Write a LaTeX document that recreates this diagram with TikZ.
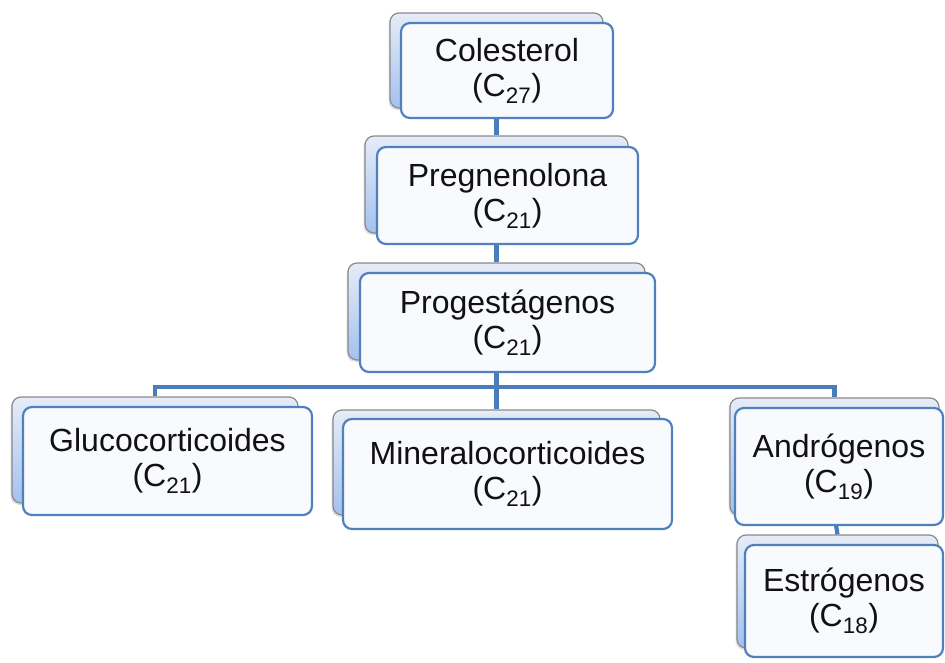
\documentclass[tikz,border=0pt]{standalone}
\usepackage{fontspec}
\setmainfont{Liberation Sans}
\usetikzlibrary{shadows}
\definecolor{linkblue}{HTML}{4A7DBB}
\definecolor{frontedge}{HTML}{4F81BD}
\definecolor{frontfill}{HTML}{F8FAFE}
\definecolor{backtop}{HTML}{E6ECF7}
\definecolor{backbot}{HTML}{A3C1EF}
\definecolor{backedge}{HTML}{8A8A8A}
\definecolor{txt}{HTML}{111111}
\tikzset{
  backbox/.style={draw=backedge, line width=1.2pt, rounded corners=9pt,
    top color=backtop, bottom color=backbot, inner sep=0pt,
    drop shadow={shadow xshift=-1.5pt, shadow yshift=-2pt, opacity=.25}},
  frontbox/.style={draw=frontedge, line width=2.2pt, rounded corners=9pt,
    fill=frontfill, inner sep=0pt, align=center, text=txt,
    font=\fontsize{32}{35}\selectfont},
  link/.style={draw=linkblue, line width=4.2pt}
}
\newcommand\sub[1]{\textsubscript{#1}}
\begin{document}
\begin{tikzpicture}[x=1pt,y=-1pt]
\useasboundingbox (0,0) rectangle (945,662);
% back boxes
\node[backbox, minimum width=213pt, minimum height=95pt] (colB) at (496.5,60.5) {};
\node[backbox, minimum width=263pt, minimum height=97pt] (pregB) at (496.5,184.5) {};
\node[backbox, minimum width=297pt, minimum height=97pt] (progB) at (496.5,311.5) {};
\node[backbox, minimum width=286pt, minimum height=106pt] (glucB) at (155,450) {};
\node[backbox, minimum width=327pt, minimum height=105pt] (minB) at (496.5,462.5) {};
\node[backbox, minimum width=209pt, minimum height=117pt] (andB) at (834.5,456.5) {};
\node[backbox, minimum width=201pt, minimum height=113pt] (estB) at (837.5,591.5) {};
% connectors
\coordinate (bus) at (496.5,387);
\draw[link] (colB.south) -- (pregB.north);
\draw[link] (pregB.south) -- (progB.north);
\draw[link] (progB.south) -- (bus);
\draw[link] (glucB.north) |- (bus) -| (andB.north);
\draw[link] (bus) -- (minB.north);
\draw[link] (andB.south) -- (estB.north);
% front boxes
\node[frontbox, minimum width=212pt, minimum height=95pt] (col) at (507,70.5) {Colesterol\\(C\sub{27})};
\node[frontbox, minimum width=261pt, minimum height=97pt] (preg) at (507.5,195.5) {Pregnenolona\\(C\sub{21})};
\node[frontbox, minimum width=295pt, minimum height=99pt] (prog) at (507.5,322.5) {Progestágenos\\(C\sub{21})};
\node[frontbox, minimum width=289pt, minimum height=108pt] (gluc) at (167.5,461) {Glucocorticoides\\(C\sub{21})};
\node[frontbox, minimum width=329pt, minimum height=110pt] (min) at (507.5,474) {Mineralocorticoides\\(C\sub{21})};
\node[frontbox, minimum width=208pt, minimum height=117pt] (and) at (839,466.5) {Andrógenos\\(C\sub{19})};
\node[frontbox, minimum width=198pt, minimum height=112pt] (est) at (844,601) {Estrógenos\\(C\sub{18})};
\end{tikzpicture}
\end{document}
